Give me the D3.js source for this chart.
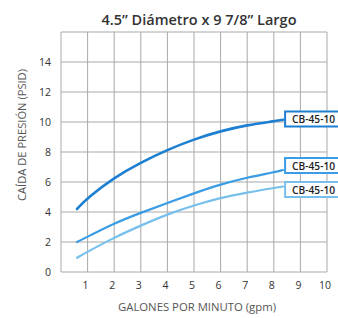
<!DOCTYPE html>
<html>
<head>
<meta charset="utf-8">
<script src="https://cdn.jsdelivr.net/npm/d3@7"></script>
<style>
  body { margin: 0; background: #fff; }
  svg { display: block; }
</style>
</head>
<body>
<svg id="chart"></svg>
<script>
const gpm = [0.6, 1, 2, 3, 4, 5, 6, 7, 8, 8.35];
const dropA = [4.2, 4.95, 6.3, 7.3, 8.15, 8.85, 9.4, 9.8, 10.05, 10.15];
const dropB = [2.0, 2.35, 3.25, 3.95, 4.6, 5.25, 5.85, 6.3, 6.65, 6.8];
const dropC = [0.95, 1.35, 2.3, 3.1, 3.85, 4.45, 4.95, 5.3, 5.6, 5.7];
const seriesNames = ["CB-45-10", "CB-45-10", "CB-45-10"];
const seriesColors = ["#1d7fd2", "#3a9ce4", "#78c0ec"];
const labelY = [10.2, 7.1, 5.5];
const xTicks = [1, 2, 3, 4, 5, 6, 7, 8, 9, 10];
const yTicks = [0, 2, 4, 6, 8, 10, 12, 14];

const width = 338, height = 318;
const svg = d3.select("#chart").attr("width", width).attr("height", height);

const x = d3.scaleLinear().domain([0, 10]).range([61, 327]);
const y = d3.scaleLinear().domain([0, 16]).range([272, 32]);

const font = "'Open Sans', sans-serif";

// title
svg.append("text")
  .attr("x", 199).attr("y", 25)
  .attr("text-anchor", "middle")
  .style("font-family", font)
  .style("font-size", "14.5px")
  .style("font-weight", "600")
  .style("fill", "#333")
  .text("4.5\u201D Di\u00E1metro x 9 7/8\u201D Largo");

// grid
let grid = svg.append("g");
grid.selectAll(".vline")
  .data(d3.range(0, 11))
  .join("line")
  .attr("x1", (d) => x(d)).attr("x2", (d) => x(d))
  .attr("y1", y(16)).attr("y2", y(0))
  .style("stroke", "#a9a9a9")
  .style("stroke-width", 1);
grid.selectAll(".hline")
  .data(d3.range(0, 18, 2))
  .join("line")
  .attr("x1", x(0)).attr("x2", x(10))
  .attr("y1", (d) => y(d)).attr("y2", (d) => y(d))
  .style("stroke", "#a9a9a9")
  .style("stroke-width", 1);

// axes labels
svg.append("g")
  .selectAll("text")
  .data(yTicks)
  .join("text")
  .attr("x", 51)
  .attr("y", (d) => y(d) + 4)
  .attr("text-anchor", "end")
  .style("font-family", font)
  .style("font-size", "10.5px")
  .style("fill", "#333")
  .text((d) => d);

svg.append("g")
  .selectAll("text")
  .data(xTicks)
  .join("text")
  .attr("x", (d) => x(d) - 2)
  .attr("y", 289)
  .attr("text-anchor", "middle")
  .style("font-family", font)
  .style("font-size", "10.5px")
  .style("fill", "#333")
  .text((d) => d);

svg.append("text")
  .attr("x", 197).attr("y", 311)
  .attr("text-anchor", "middle")
  .attr("textLength", 158)
  .attr("lengthAdjust", "spacingAndGlyphs")
  .style("font-family", font)
  .style("font-size", "10.5px")
  .style("fill", "#555")
  .text("GALONES POR MINUTO (gpm)");

svg.append("text")
  .attr("transform", "translate(26,135) rotate(-90)")
  .attr("text-anchor", "middle")
  .attr("textLength", 132)
  .attr("lengthAdjust", "spacingAndGlyphs")
  .style("font-family", font)
  .style("font-size", "10.5px")
  .style("fill", "#555")
  .text("CA\u00CDDA DE PRESI\u00D3N (PSID)");

// curves
let line = d3.line()
  .x((d) => x(d[0]))
  .y((d) => y(d[1]))
  .curve(d3.curveBasis);

let allSeries = [dropA, dropB, dropC];
allSeries.forEach((vals, i) => {
  svg.append("path")
    .datum(gpm.map((g, j) => [g, vals[j]]))
    .attr("d", line)
    .style("fill", "none")
    .style("stroke", seriesColors[i])
    .style("stroke-width", i == 0 ? 2.6 : 2.2)
    .style("stroke-linecap", "round");
});

// label boxes
let boxes = svg.append("g")
  .selectAll("g")
  .data(seriesNames)
  .join("g")
  .attr("transform", (d, i) => `translate(${x(8.35) + 2},${y(labelY[i])})`);

boxes.append("rect")
  .attr("x", 0).attr("y", -7.5)
  .attr("width", 70).attr("height", 15)
  .style("fill", "#fff")
  .style("stroke", (d, i) => seriesColors[i])
  .style("stroke-width", 2);

boxes.append("text")
  .attr("x", 7).attr("y", 4)
  .attr("textLength", 43)
  .attr("lengthAdjust", "spacingAndGlyphs")
  .style("font-family", font)
  .style("font-size", "10.5px")
  .style("font-weight", "600")
  .style("fill", "#222")
  .text((d) => d);
</script>
</body>
</html>
